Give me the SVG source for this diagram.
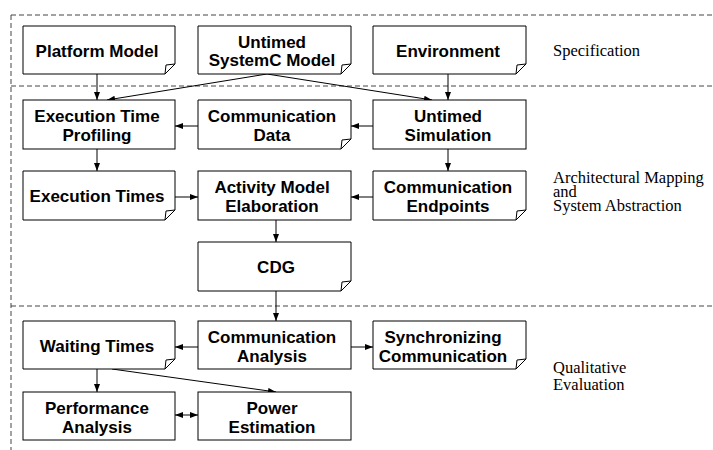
<svg xmlns="http://www.w3.org/2000/svg" width="713" height="450" viewBox="0 0 713 450">
<style>
.box{fill:#fff;stroke:#000;stroke-width:1}
.fold{fill:none;stroke:#000;stroke-width:1}
.t{font-family:"Liberation Sans",Arial,sans-serif;font-weight:bold;font-size:17px;text-anchor:middle;fill:#000}
.lbl{font-family:"Liberation Serif","Times New Roman",serif;font-size:16.5px;fill:#000}
.dash{fill:none;stroke:#444;stroke-width:1;stroke-dasharray:5 3}
.c{fill:none;stroke:#000;stroke-width:1}
</style>
<defs>
<marker id="ah" markerWidth="8" markerHeight="6" refX="8" refY="3" orient="auto-start-reverse" markerUnits="userSpaceOnUse">
<path d="M0,0 L8,3 L0,6 Z" fill="#000"/>
</marker>
</defs>
<g id="sections">
<path class="dash" d="M11,15 H713"/>
<path class="dash" d="M11,15 V450"/>
<path class="dash" d="M11,86 H713"/>
<path class="dash" d="M11,306 H713"/>
<text class="lbl" x="553" y="56">Specification</text>
<text class="lbl" x="553" y="183">Architectural Mapping</text>
<text class="lbl" x="553" y="197">and</text>
<text class="lbl" x="553" y="211">System Abstraction</text>
<text class="lbl" x="553" y="373">Qualitative</text>
<text class="lbl" x="553" y="390">Evaluation</text>
</g>
<g id="connectors">
<path class="c" d="M97,74 V100" marker-end="url(#ah)"/>
<path class="c" d="M267,74 L107,100" marker-end="url(#ah)"/>
<path class="c" d="M267,74 L432,100" marker-end="url(#ah)"/>
<path class="c" d="M448,74 V100" marker-end="url(#ah)"/>
<path class="c" d="M373,126 H351" marker-end="url(#ah)"/>
<path class="c" d="M198,126 H175" marker-end="url(#ah)"/>
<path class="c" d="M97,149 V171" marker-end="url(#ah)"/>
<path class="c" d="M448,149 V171" marker-end="url(#ah)"/>
<path class="c" d="M175,197 H198" marker-end="url(#ah)"/>
<path class="c" d="M373,197 H351" marker-end="url(#ah)"/>
<path class="c" d="M276,220 V242" marker-end="url(#ah)"/>
<path class="c" d="M276,291 V321" marker-end="url(#ah)"/>
<path class="c" d="M198,347 H175" marker-end="url(#ah)"/>
<path class="c" d="M351,347 H373" marker-end="url(#ah)"/>
<path class="c" d="M97,369 V392" marker-end="url(#ah)"/>
<path class="c" d="M112,369 L276,392" marker-end="url(#ah)"/>
<path class="c" d="M175,415 H198" marker-start="url(#ah)" marker-end="url(#ah)"/>
</g>
<g id="platform-model">
<path class="box" d="M23,26 H175 V64 L165,74 H23 Z"/><path class="fold" d="M165,74 L166,65 L175,64"/>
<text class="t" x="97" y="56.5">Platform Model</text>
</g>
<g id="untimed-systemc-model">
<path class="box" d="M198,26 H351 V64 L341,74 H198 Z"/><path class="fold" d="M341,74 L342,65 L351,64"/>
<text class="t" x="272" y="47.5">Untimed</text>
<text class="t" x="272" y="65.5">SystemC Model</text>
</g>
<g id="environment">
<path class="box" d="M373,26 H526 V64 L516,74 H373 Z"/><path class="fold" d="M516,74 L517,65 L526,64"/>
<text class="t" x="448" y="56.5">Environment</text>
</g>
<g id="execution-time-profiling">
<rect class="box" x="23" y="100" width="152" height="49"/>
<text class="t" x="97" y="122">Execution Time</text>
<text class="t" x="97" y="141">Profiling</text>
</g>
<g id="communication-data">
<path class="box" d="M198,100 H351 V139 L341,149 H198 Z"/><path class="fold" d="M341,149 L342,140 L351,139"/>
<text class="t" x="272" y="122">Communication</text>
<text class="t" x="272" y="141">Data</text>
</g>
<g id="untimed-simulation">
<rect class="box" x="373" y="100" width="153" height="49"/>
<text class="t" x="448" y="122">Untimed</text>
<text class="t" x="448" y="141">Simulation</text>
</g>
<g id="execution-times">
<path class="box" d="M23,171 H175 V210 L165,220 H23 Z"/><path class="fold" d="M165,220 L166,211 L175,210"/>
<text class="t" x="97" y="202">Execution Times</text>
</g>
<g id="activity-model-elaboration">
<rect class="box" x="198" y="171" width="153" height="49"/>
<text class="t" x="272" y="193">Activity Model</text>
<text class="t" x="272" y="212">Elaboration</text>
</g>
<g id="communication-endpoints">
<path class="box" d="M373,171 H526 V210 L516,220 H373 Z"/><path class="fold" d="M516,220 L517,211 L526,210"/>
<text class="t" x="448" y="193">Communication</text>
<text class="t" x="448" y="212">Endpoints</text>
</g>
<g id="cdg">
<path class="box" d="M198,242 H351 V281 L341,291 H198 Z"/><path class="fold" d="M341,291 L342,282 L351,281"/>
<text class="t" x="276" y="273">CDG</text>
</g>
<g id="waiting-times">
<path class="box" d="M23,321 H175 V359 L165,369 H23 Z"/><path class="fold" d="M165,369 L166,360 L175,359"/>
<text class="t" x="97" y="351.5">Waiting Times</text>
</g>
<g id="communication-analysis">
<rect class="box" x="198" y="321" width="153" height="48"/>
<text class="t" x="272" y="343">Communication</text>
<text class="t" x="272" y="362">Analysis</text>
</g>
<g id="synchronizing-communication">
<path class="box" d="M373,321 H526 V359 L516,369 H373 Z"/><path class="fold" d="M516,369 L517,360 L526,359"/>
<text class="t" x="443" y="343">Synchronizing</text>
<text class="t" x="443" y="362">Communication</text>
</g>
<g id="performance-analysis">
<rect class="box" x="23" y="392" width="152" height="48"/>
<text class="t" x="97" y="414">Performance</text>
<text class="t" x="97" y="433">Analysis</text>
</g>
<g id="power-estimation">
<rect class="box" x="198" y="392" width="153" height="48"/>
<text class="t" x="272" y="414">Power</text>
<text class="t" x="272" y="433">Estimation</text>
</g>
</svg>
